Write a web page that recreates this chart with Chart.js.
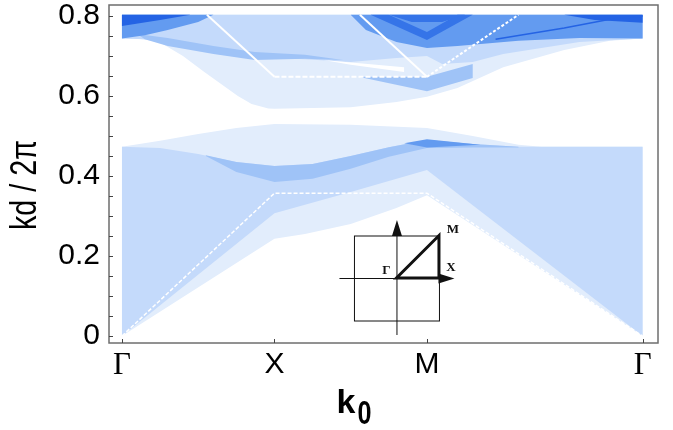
<!DOCTYPE html>
<html>
<head>
<meta charset="utf-8">
<script src="https://cdn.jsdelivr.net/npm/chart.js@4.4.0/dist/chart.umd.min.js"></script>
<style>
  html, body { margin: 0; padding: 0; background: #fff; }
</style>
</head>
<body>
<canvas id="bands" width="673" height="430"></canvas>
<script>
// k path: Γ -> X -> M -> Γ  (|ΓM| = √2 |ΓX|)
const kTicks = [0, 1, 2, 3.414];
const kLabels = ['Γ', 'X', 'M', 'Γ'];
const yTicks = [0, 0.05, 0.1, 0.15, 0.2, 0.25, 0.3, 0.35, 0.4, 0.45, 0.5, 0.55, 0.6, 0.65, 0.7, 0.75, 0.8];
const yLabelled = [0, 0.2, 0.4, 0.6, 0.8];

// ---- lower band (outlines as [k, kd/2π]) ----
const lowEnvelope = [
  [0, 0.473], [0.25, 0.488], [0.5, 0.505], [0.75, 0.52], [1.0, 0.53], [1.5, 0.528], [2.0, 0.52],
  [2.3, 0.5], [2.6, 0.478], [2.75, 0.473], [3.414, 0.473], [3.414, 0],
  [2.0, 0.352], [1.8, 0.32], [1.5, 0.28], [1.2, 0.255], [1.0, 0.243], [0, 0]
];
const lowMain = [
  [0, 0.473], [0.25, 0.47], [0.5, 0.455], [0.75, 0.435], [1.0, 0.425], [1.25, 0.43], [1.5, 0.45],
  [1.75, 0.472], [2.0, 0.49], [2.3, 0.48], [2.6, 0.473], [3.414, 0.473], [3.414, 0],
  [2.0, 0.415], [1.5, 0.36], [1.0, 0.307], [0, 0]
];
const lowStripe = [
  [0.55, 0.452], [0.75, 0.435], [1.0, 0.425], [1.25, 0.43], [1.5, 0.45], [1.75, 0.472], [2.0, 0.49],
  [2.3, 0.48], [2.6, 0.473], [2.6, 0.471], [2.3, 0.471], [2.0, 0.47], [1.75, 0.448], [1.5, 0.418],
  [1.25, 0.393], [1.0, 0.385], [0.75, 0.41], [0.55, 0.45]
];
const lowSpot = [[1.85, 0.482], [2.0, 0.492], [2.35, 0.478], [2.0, 0.471]];
const lowLightLine = [[0, 0], [1, 0.357], [2, 0.357], [3.414, 0]];

// ---- upper band ----
const upEnvelope = [
  [0, 0.803], [3.414, 0.803], [3.414, 0.744], [3.2, 0.738], [2.9, 0.715], [2.5, 0.672], [2.2, 0.62],
  [2.0, 0.598], [1.8, 0.585], [1.5, 0.572], [1.0, 0.568], [0.96, 0.569], [0.85, 0.58], [0.76, 0.60],
  [0.65, 0.63], [0.54, 0.66], [0.4, 0.70], [0.24, 0.736], [0.1, 0.743], [0, 0.744]
];
const upMain = [
  [0, 0.803], [3.414, 0.803], [3.414, 0.744], [3.0, 0.735], [2.5, 0.705], [2.3, 0.685], [2.1, 0.68],
  [2.0, 0.70], [1.8, 0.695], [1.5, 0.685], [1.2, 0.692], [1.0, 0.695], [0.8, 0.70], [0.55, 0.72],
  [0.3, 0.74], [0, 0.744]
];
const upStripe = [
  [0.1, 0.755], [0.3, 0.745], [0.6, 0.725], [0.87, 0.71], [1.2, 0.703], [1.45, 0.69],
  [1.2, 0.693], [0.87, 0.69], [0.6, 0.705], [0.3, 0.725], [0.15, 0.742]
];
const upVee = [[1.55, 0.648], [2.0, 0.648], [2.3, 0.68], [2.3, 0.645], [2.0, 0.612]];
const upRight = [
  [1.5, 0.803], [3.414, 0.803], [3.414, 0.744], [3.0, 0.745], [2.6, 0.738], [2.2, 0.725],
  [2.0, 0.72], [1.8, 0.735], [1.6, 0.765]
];
const upDarkVee = [[1.63, 0.803], [2.0, 0.74], [2.3, 0.803], [2.2, 0.803], [2.0, 0.76], [1.75, 0.803]];
const upTopBar = [[1.75, 0.803], [2.25, 0.803], [2.1, 0.785], [1.9, 0.785]];
const upLeftMid = [[0, 0.803], [0.6, 0.803], [0.5, 0.785], [0.3, 0.765], [0.15, 0.752], [0, 0.744]];
const upLeftDark = [[0, 0.803], [0.45, 0.803], [0.25, 0.79], [0, 0.775]];
const upRightDark = [[2.9, 0.803], [3.414, 0.803], [3.414, 0.783], [3.1, 0.79]];
const upRightLine = [[2.45, 0.742], [2.9, 0.77], [3.2, 0.792], [3.414, 0.80]];
const upGap = [[1.32, 0.69], [1.85, 0.672], [1.85, 0.660], [1.5, 0.678]];

// light lines in the upper band
const lightLeft = [[0.557, 0.803], [1.0, 0.648]];
const lightFlat = [[1.0, 0.648], [2.0, 0.648]];
const lightRightIn = [[1.56, 0.803], [2.0, 0.648]];
const lightRightOut = [[2.0, 0.648], [2.6, 0.803]];

const C = {
  pale: '#e2edfc',
  light: '#c4dafb',
  mid: '#9fc3f7',
  midDark: '#639bf0',
  dark: '#3574e8',
  darker: '#2463e4'
};

const pts = arr => arr.map(p => ({ x: p[0], y: p[1] }));

function area(data, color) {
  return {
    data: pts(data), showLine: true, fill: 'shape', backgroundColor: color,
    borderWidth: 0, pointRadius: 0, tension: 0
  };
}
function line(data, color, width, dash) {
  return {
    data: pts(data), showLine: true, fill: false, borderColor: color,
    borderWidth: width, borderDash: dash || [], pointRadius: 0, tension: 0
  };
}

// bottom layer first
const layers = [
  area(lowEnvelope, C.pale),
  area(lowMain, C.light),
  area(lowStripe, C.mid),
  area(lowSpot, C.midDark),
  line(lowLightLine, '#ffffff', 1.5, [4, 2]),
  area(upEnvelope, C.pale),
  area(upMain, C.light),
  area(upStripe, C.mid),
  area(upVee, C.mid),
  area(upRight, C.midDark),
  area(upDarkVee, C.dark),
  area(upTopBar, C.dark),
  area(upLeftMid, C.midDark),
  area(upLeftDark, C.darker),
  area(upRightDark, C.darker),
  line(upRightLine, C.darker, 1.5),
  area(upGap, '#ffffff'),
  line(lightLeft, '#ffffff', 2),
  line(lightFlat, '#ffffff', 2, [5, 2]),
  line(lightRightIn, '#ffffff', 2),
  line(lightRightOut, '#ffffff', 2, [3, 2])
];
layers.forEach((d, i) => { d.order = layers.length - i; });

// narrow-looking text: squeeze horizontally to a target length
function squeezedText(ctx, text, x, y, targetWidth) {
  const w = ctx.measureText(text).width;
  ctx.save();
  ctx.translate(x, y);
  ctx.scale(targetWidth / w, 1);
  ctx.fillText(text, 0, 0);
  ctx.restore();
}

const frameAndInset = {
  id: 'frameAndInset',
  afterDatasetsDraw(chart) {
    const { ctx, chartArea: a, scales } = chart;
    const xs = scales.x, ys = scales.y;
    ctx.save();
    // plot frame
    ctx.strokeStyle = '#6e6e6e';
    ctx.lineWidth = 1.5;
    ctx.strokeRect(a.left, a.top, a.right - a.left, a.bottom - a.top);
    // inward ticks
    ctx.lineWidth = 1;
    ctx.strokeStyle = '#444';
    ctx.beginPath();
    yTicks.forEach(v => {
      const py = Math.round(ys.getPixelForValue(v)) + 0.5;
      ctx.moveTo(a.left, py); ctx.lineTo(a.left + 4, py);
    });
    kTicks.forEach(k => {
      const px = Math.round(xs.getPixelForValue(k)) + 0.5;
      ctx.moveTo(px, a.bottom); ctx.lineTo(px, a.bottom - 4);
    });
    ctx.stroke();

    // Brillouin-zone sketch
    const cx = xs.getPixelForValue(1.8), cy = ys.getPixelForValue(0.145);
    const h = 42.5;
    ctx.strokeStyle = '#111';
    ctx.fillStyle = '#111';
    ctx.lineWidth = 1;
    ctx.strokeRect(cx - h + 0.5, cy - h + 0.5, 2 * h, 2 * h);
    ctx.beginPath();
    ctx.moveTo(cx - 57, cy + 0.5); ctx.lineTo(cx + 50, cy + 0.5);
    ctx.moveTo(cx + 0.5, cy + 57); ctx.lineTo(cx + 0.5, cy - 50);
    ctx.stroke();
    // arrow heads
    ctx.beginPath();
    ctx.moveTo(cx + 58, cy + 0.5); ctx.lineTo(cx + 42, cy - 4.5); ctx.lineTo(cx + 42, cy + 5.5); ctx.closePath();
    ctx.moveTo(cx + 0.5, cy - 58); ctx.lineTo(cx - 4.5, cy - 42); ctx.lineTo(cx + 5.5, cy - 42); ctx.closePath();
    ctx.fill();
    // Γ -> X -> M -> Γ path
    ctx.lineWidth = 3;
    ctx.beginPath();
    ctx.moveTo(cx, cy); ctx.lineTo(cx + h, cy); ctx.lineTo(cx + h, cy - h); ctx.closePath();
    ctx.stroke();
    ctx.font = 'bold 13px "Liberation Serif"';
    ctx.textAlign = 'center';
    ctx.textBaseline = 'middle';
    ctx.fillText('Γ', cx - 10, cy - 7);
    ctx.fillText('X', cx + h + 12, cy - 10);
    ctx.fillText('M', cx + h + 14, cy - h - 6);

    // y axis title
    ctx.fillStyle = '#000';
    ctx.font = '37px "Liberation Sans"';
    ctx.textAlign = 'left';
    ctx.textBaseline = 'alphabetic';
    ctx.save();
    ctx.translate(36, 230);
    ctx.rotate(-Math.PI / 2);
    squeezedText(ctx, 'kd / 2π', 0, 0, 90);
    ctx.restore();

    // x axis title k0
    const tx = (a.left + a.right) / 2 - 47;
    ctx.font = 'bold 34px "Liberation Sans"';
    ctx.fillText('k', tx, 413);
    squeezedText(ctx, '0', tx + 21, 424, 14);
    ctx.restore();
  }
};

new Chart(document.getElementById('bands'), {
  type: 'scatter',
  data: { datasets: layers },
  options: {
    responsive: false,
    devicePixelRatio: 1,
    animation: false,
    layout: { autoPadding: false, padding: { top: 5, right: 15, left: 0, bottom: 0 } },
    plugins: { legend: { display: false }, tooltip: { enabled: false } },
    scales: {
      x: {
        type: 'linear', min: -0.085, max: 3.515,
        afterFit: s => { s.height = 87; s.paddingLeft = 0; s.paddingRight = 0; },
        afterBuildTicks: s => { s.ticks = kTicks.map(v => ({ value: v })); },
        grid: { display: false, drawTicks: false },
        border: { display: false },
        ticks: {
          padding: 4,
          color: '#000',
          autoSkip: false,
          maxRotation: 0,
          callback: (v, i) => kLabels[i],
          font: c => (c.tick && c.tick.label === 'Γ')
            ? { family: 'Liberation Serif', size: 31 }
            : { family: 'Liberation Sans', size: 30 }
        }
      },
      y: {
        type: 'linear', min: -0.0175, max: 0.8275,
        afterFit: s => { s.width = 109; s.paddingTop = 0; s.paddingBottom = 0; },
        afterBuildTicks: s => { s.ticks = yTicks.map(v => ({ value: v })); },
        grid: { display: false, drawTicks: false },
        border: { display: false },
        ticks: {
          padding: 9,
          color: '#000',
          autoSkip: false,
          font: { family: 'Liberation Sans', size: 30 },
          callback: v => yLabelled.some(t => Math.abs(t - v) < 1e-6) ? String(+v.toFixed(1)) : ''
        }
      }
    }
  },
  plugins: [frameAndInset]
});
</script>
</body>
</html>
